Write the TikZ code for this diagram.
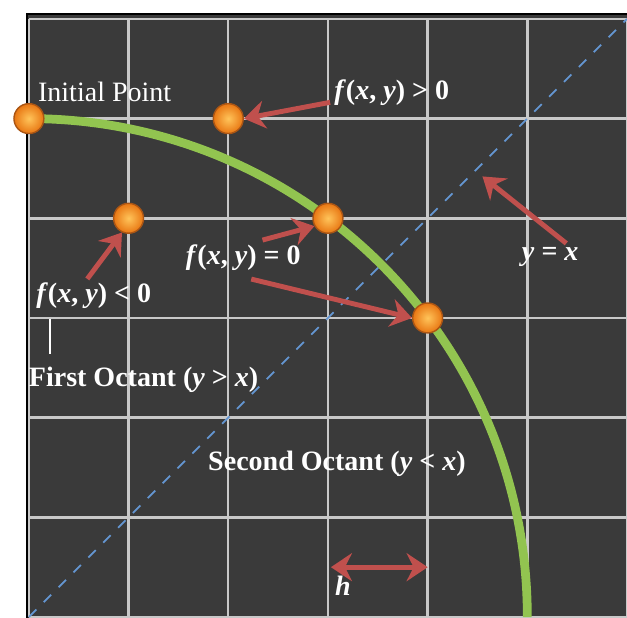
\documentclass[tikz,border=0pt]{standalone}
\usepackage{fontspec}
\setmainfont{Liberation Serif}
\usepackage{tikz}
\usetikzlibrary{arrows.meta}
\definecolor{panelgray}{RGB}{58,58,58}
\definecolor{gridgray}{RGB}{200,200,200}
\definecolor{arcgreen}{RGB}{146,196,80}
\definecolor{arrowred}{RGB}{192,80,77}
\definecolor{diagblue}{RGB}{100,150,210}
\definecolor{balllight}{RGB}{255,196,90}
\definecolor{balldark}{RGB}{232,118,18}
\definecolor{balledge}{RGB}{170,85,20}
\tikzset{
	ball/.style={circle, inner color=balllight, outer color=balldark, draw=balledge, line width=0.4pt, minimum size=0.3cm, inner sep=0pt},
	lbl/.style={text=white, inner sep=1pt, font=\fontsize{8}{9.6}\selectfont},
	blbl/.style={lbl, font=\fontsize{8}{9.6}\selectfont\bfseries},
	pointer/.style={draw=arrowred, line width=1.4pt},
}

\begin{document}
\begin{tikzpicture}

\useasboundingbox (-0.29,0) rectangle (6.0,6.19);

% panel, grid and the line y = x
\fill [panelgray] (-0.02,-0.1) rectangle (6.1,6.05);
\draw [black, line width=0.8pt] (-0.02,-0.1) -- (-0.02,6.05) -- (6.1,6.05);
\draw [gridgray, line width=0.7pt] (0,0) grid (6,6);
\draw [diagblue, dashed, line width=0.5pt] (0,0) -- (6,6);

% the circle arc
\draw [arcgreen, line width=2.5pt] (0,5) arc [start angle=90, end angle=0, radius=5];

\node at (0,5) [ball] (init) {};
\node at (2,5) [ball] (out) {};
\node at (1,4) [ball] (in) {};
\node at (3,4) [ball] (on1) {};
\node at (4,3) [ball] (on2) {};

\node at (0.76,5.27) [lbl] (initlbl) {Initial Point};
\node at (3.64,5.26) [blbl] (poslbl) {\textit{f}(\textit{x}, \textit{y}) > 0};
\node at (0.65,3.22) [blbl] (neglbl) {\textit{f}(\textit{x}, \textit{y}) < 0};
\node at (2.15,3.61) [blbl] (zerolbl) {\textit{f}(\textit{x}, \textit{y}) = 0};
\node at (5.23,3.61) [blbl] (diaglbl) {\textit{y} = \textit{x}};
\node at (1.15,2.38) [blbl] (first) {First Octant (\textit{y} > \textit{x})};
\node at (3.09,1.54) [blbl] (second) {Second Octant (\textit{y} < \textit{x})};
\node at (3.15,0.31) [blbl] (hlbl) {\textit{h}};

\coordinate (diagpt) at (4.55,4.42);
\coordinate (hleft) at (3.03,0.5);
\coordinate (hright) at (4.0,0.5);
\coordinate (ticktop) at (0.21,2.99);
\coordinate (tickbot) at (0.21,2.64);

\begin{scope}[>={Stealth[length=6pt, width=8pt, inset=2pt]}]
	\draw [pointer, ->] ([yshift=-0.6ex]poslbl.west) -- (out.east) ;
	\draw [pointer, ->] ([xshift=-0.4ex]neglbl.north) -- (in.245) ;
	\draw [pointer, ->] ([xshift=1.2ex]zerolbl.north) -- (on1.210) ;
	\draw [pointer, ->] ([xshift=0.5ex, yshift=-0.3ex]zerolbl.south) -- (on2.west) ;
	\draw [pointer, ->] ([xshift=1ex]diaglbl.north) -- (diagpt) ;
	\draw [pointer, <->] (hleft) -- (hright) ;
\end{scope}

\draw [white, line width=0.5pt] (ticktop) -- (tickbot);

\end{tikzpicture}
\end{document}
